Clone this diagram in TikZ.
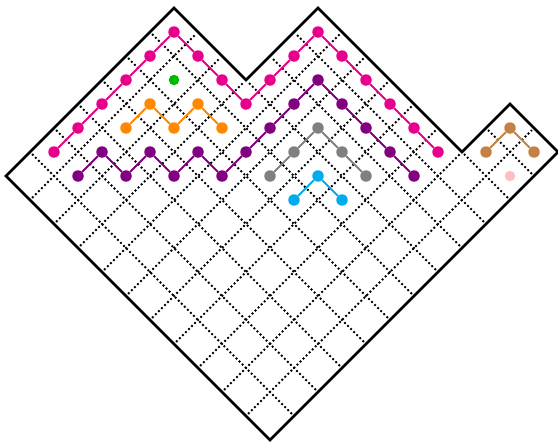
\documentclass[tikz,border=0pt]{standalone}
\begin{document}
\begin{tikzpicture}[x=1pt,y=-1pt,
  grid/.style={line width=1.9pt,dash pattern=on 1.9pt off 2.4pt,shorten <=3pt,shorten >=3pt},
  outline/.style={line width=2.8pt,line join=miter},
  pt/.style={circle,fill=#1,inner sep=0pt,minimum size=11.5pt},
  seg/.style={draw=#1,line width=1.9pt}]
\definecolor{cMag}{RGB}{232,0,140}
\definecolor{cOra}{RGB}{255,136,0}
\definecolor{cPur}{RGB}{128,0,128}
\definecolor{cGra}{RGB}{128,128,128}
\definecolor{cBlu}{RGB}{0,172,236}
\definecolor{cBro}{RGB}{196,130,66}
\definecolor{cPin}{RGB}{255,190,192}
\definecolor{cGre}{RGB}{0,186,0}
\useasboundingbox (0,0) rectangle (558,442);
% lattice: (a,b) -> (270+24(a-b), 440-24(a+b))
\def\LX#1#2{\the\numexpr270+24*(#1)-24*(#2)\relax}
\def\LY#1#2{\the\numexpr440-24*(#1)-24*(#2)\relax}
% lines of constant a
\foreach \k/\m in {1/11,2/11,3/11,4/11,5/11,6/11,7/8,8/8,9/8,10/2,11/2}{
  \coordinate (ga\k) at (\LX{\k}{0},\LY{\k}{0});
  \coordinate (gb\k) at (\LX{\k}{\m},\LY{\k}{\m});
  \draw[grid] (ga\k) -- (gb\k);
}
% lines of constant b
\foreach \k/\m in {1/12,2/10,3/10,4/10,5/10,6/10,7/10,8/7,9/7,10/7}{
  \coordinate (ha\k) at (\LX{0}{\k},\LY{0}{\k});
  \coordinate (hb\k) at (\LX{\m}{\k},\LY{\m}{\k});
  \draw[grid] (ha\k) -- (hb\k);
}
% outline
\coordinate (o0) at (270,440);
\coordinate (o1) at (6,176);
\coordinate (o2) at (174,8);
\coordinate (o3) at (246,80);
\coordinate (o4) at (318,8);
\coordinate (o5) at (462,152);
\coordinate (o6) at (510,104);
\coordinate (o7) at (558,152);
\draw[outline] (o0) -- (o1) -- (o2) -- (o3) -- (o4) -- (o5) -- (o6) -- (o7) -- cycle;
% paths
\foreach \c/\n/\lst in {
  cMag/m/{54/152,78/128,102/104,126/80,150/56,174/32,198/56,222/80,246/104,270/80,294/56,318/32,342/56,366/80,390/104,414/128,438/152},
  cOra/o/{126/128,150/104,174/128,198/104,222/128},
  cPur/p/{78/176,102/152,126/176,150/152,174/176,198/152,222/176,246/152,270/128,294/104,318/80,342/104,366/128,390/152,414/176},
  cGra/g/{270/176,294/152,318/128,342/152,366/176},
  cBlu/b/{294/200,318/176,342/200},
  cBro/r/{486/152,510/128,534/152}}{
  \foreach \x/\y [count=\i, remember=\i as \j (initially 0)] in \lst {
    \node[pt=\c] (\n\i) at (\x,\y) {};
    \ifnum\i>1 \draw[seg=\c] (\n\j) -- (\n\i); \fi
  }
}
\node[pt=cGre,minimum size=10.5pt] (green) at (174,80) {};
\node[pt=cPin,minimum size=10.5pt] (pink) at (510,176) {};
\end{tikzpicture}
\end{document}
